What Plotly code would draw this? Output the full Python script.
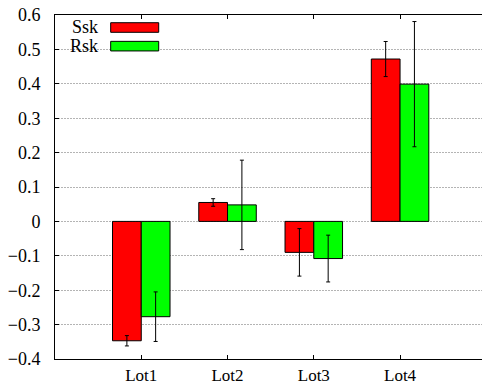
import plotly.graph_objects as go

lots = ["Lot1", "Lot2", "Lot3", "Lot4"]
ssk = [-0.347, 0.055, -0.090, 0.472]
ssk_err = [0.015, 0.011, 0.069, 0.051]
rsk = [-0.277, 0.048, -0.108, 0.399]
rsk_err = [0.072, 0.130, 0.068, 0.182]
y_ticks = [-0.4, -0.3, -0.2, -0.1, 0, 0.1, 0.2, 0.3, 0.4, 0.5, 0.6]

series = [("Ssk", ssk, ssk_err, "#ff0000"), ("Rsk", rsk, rsk_err, "#00ff00")]
serif = "Liberation Serif"

fig = go.Figure()
for name, vals, errs, color in series:
    fig.add_trace(go.Bar(
        x=lots, y=vals, name=name,
        marker=dict(color=color, line=dict(color="black", width=1)),
        error_y=dict(type="data", array=errs, color="black", thickness=1, width=2),
    ))

# gnuplot-style key: label on the left, swatch on the right
shapes = []
annotations = []
for i, (name, vals, errs, color) in enumerate(series):
    y0 = 0.9497 - i * 0.0542
    shapes.append(dict(type="rect", xref="paper", yref="paper",
                       x0=0.1304, x1=0.2429, y0=y0, y1=y0 + 0.0279,
                       fillcolor=color, line=dict(color="black", width=1)))
    annotations.append(dict(text=name, xref="paper", yref="paper",
                            x=0.1054, y=y0 + 0.014, xanchor="right", yanchor="middle",
                            showarrow=False, font=dict(family=serif, size=18, color="black")))

fig.update_layout(
    width=482, height=387,
    margin=dict(l=55, r=0, t=15, b=28),
    barmode="group", bargap=1/3, bargroupgap=0,
    plot_bgcolor="white", paper_bgcolor="white",
    font=dict(family=serif, size=17, color="black"),
    showlegend=False,
    shapes=shapes, annotations=annotations,
)
fig.update_xaxes(
    type="category", range=[-1, 3.95], automargin=False,
    showline=True, linecolor="black", linewidth=1, mirror="ticks",
    ticks="inside", ticklen=4, tickcolor="black", showgrid=False,
    ticklabelstandoff=1, tickfont=dict(family=serif, size=17, color="black"),
)
fig.update_yaxes(
    range=[-0.4, 0.6], tickvals=y_ticks, automargin=False,
    showline=True, linecolor="black", linewidth=1,
    ticks="inside", ticklen=4, tickcolor="black",
    showgrid=True, gridcolor="#b4b4b4", griddash="2px,1px", gridwidth=1,
    zeroline=False, ticklabelstandoff=10,
    tickfont=dict(family=serif, size=18, color="black"),
)

# drop the default 8px page margin so the figure fills the window exactly
fig.write_html("out.html", config={"displayModeBar": False},
               post_script="document.body.style.margin='0';")
